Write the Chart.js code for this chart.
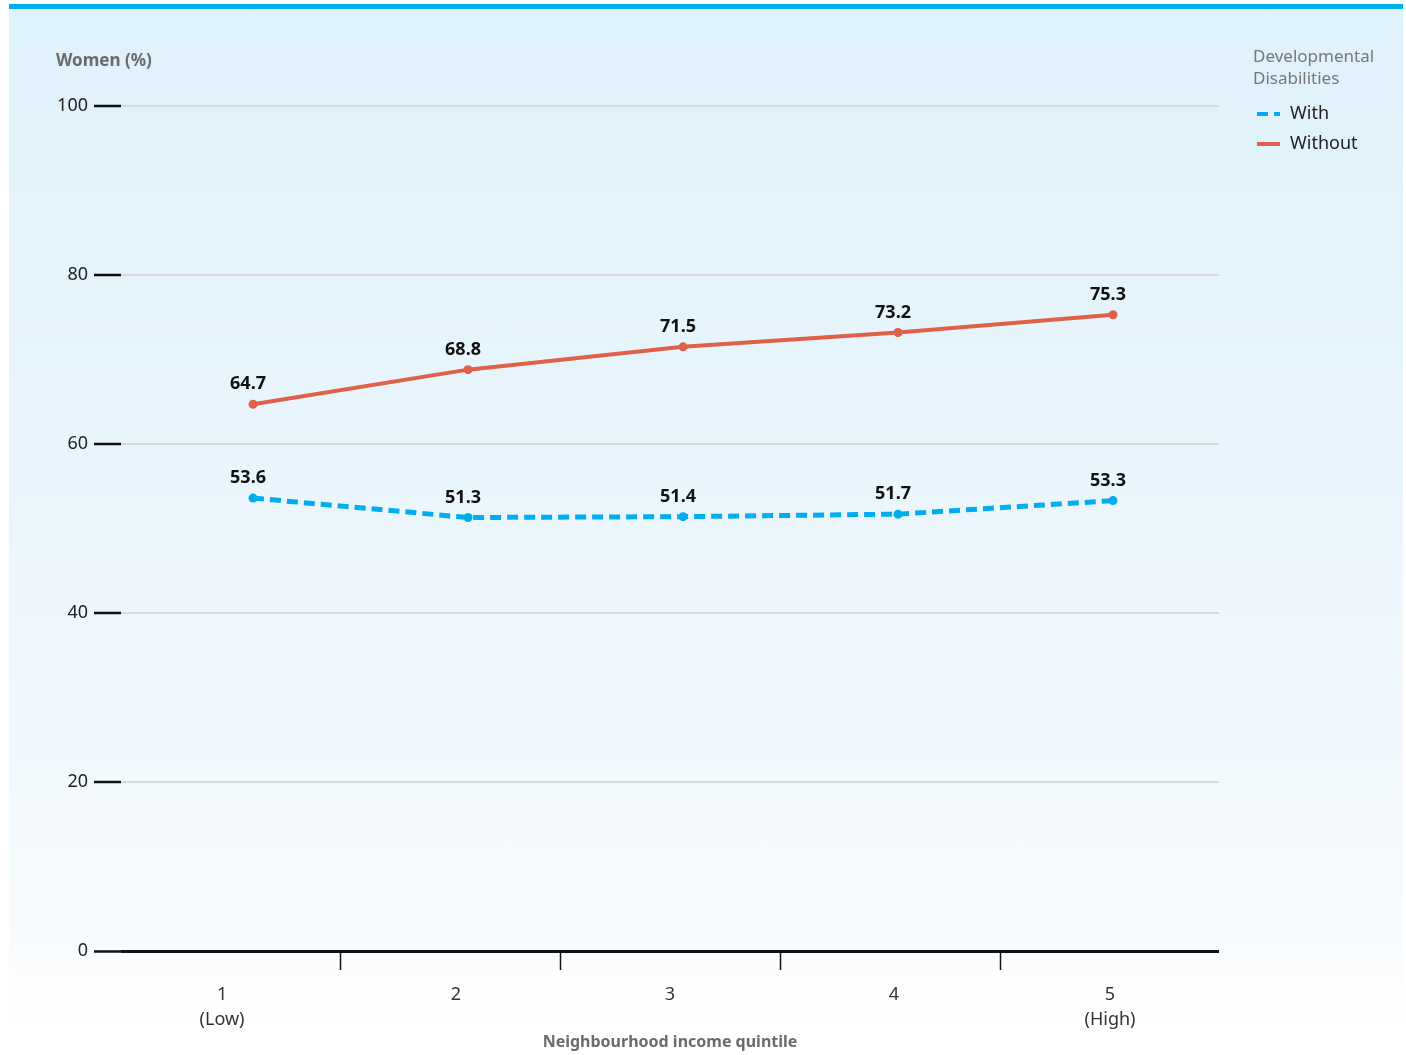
<!DOCTYPE html>
<html>
<head>
<meta charset="utf-8">
<script src="https://cdn.jsdelivr.net/npm/chart.js@4.4.1/dist/chart.umd.min.js"></script>
<style>
  html, body { margin: 0; padding: 0; background: #ffffff; }
  #wrap { position: relative; width: 1406px; height: 1055px; overflow: hidden; }
  #bg { position: absolute; left: 9px; top: 4px; width: 1394px; height: 1020px;
        background: linear-gradient(to bottom, #dff1fb 0%, #e9f5fc 45%, #f7fbfe 90%, #ffffff 100%); }
  #bar { position: absolute; left: 9px; top: 4px; width: 1394px; height: 5px; background: #00aeef; }
  canvas { position: absolute; left: 0; top: 0; }
</style>
</head>
<body>
<div id="wrap">
  <div id="bg"></div>
  <div id="bar"></div>
  <canvas id="c" width="1406" height="1055"></canvas>
</div>
<script>
const quintiles = [1, 2, 3, 4, 5];
const quintileLabels = [["1", "(Low)"], ["2"], ["3"], ["4"], ["5", "(High)"]];
const withDD = [53.6, 51.3, 51.4, 51.7, 53.3];
const withoutDD = [64.7, 68.8, 71.5, 73.2, 75.3];
const yTicks = [0, 20, 40, 60, 80, 100];
const seriesNames = ["With", "Without"];
const legendTitle = ["Developmental", "Disabilities"];
const yTitle = "Women (%)";
const xTitle = "Neighbourhood income quintile";

const FONT = "'Noto Sans', 'DejaVu Sans', sans-serif";
const BLUE = "#00aeef";
const RED = "#e0604a";

// layout tweaks (not data)
const X_MIN = 0.386, X_MAX = 5.493;
const labelShift = [-0.144, -0.056, -0.061, -0.019, -0.014];
const dividerAt = [1.405, 2.428, 3.451, 4.474];

const toPts = arr => arr.map((v, i) => ({ x: quintiles[i], y: v }));

const overlay = {
  id: 'overlay',
  afterDatasetsDraw(chart) {
    const ctx = chart.ctx;
    const ca = chart.chartArea;
    const xs = chart.scales.x;
    ctx.save();
    // divider ticks under the x axis
    ctx.strokeStyle = "#111";
    ctx.lineWidth = 1.5;
    dividerAt.forEach(v => {
      const px = Math.round(xs.getPixelForValue(v)) + 0.5;
      ctx.beginPath();
      ctx.moveTo(px, ca.bottom);
      ctx.lineTo(px, ca.bottom + 19);
      ctx.stroke();
    });
    // data labels
    ctx.font = "bold 18px " + FONT;
    ctx.fillStyle = "#111";
    ctx.textAlign = "center";
    ctx.textBaseline = "bottom";
    chart.data.datasets.forEach((ds, di) => {
      const meta = chart.getDatasetMeta(di);
      meta.data.forEach((pt, i) => {
        ctx.fillText(ds.data[i].y.toFixed(1), pt.x - 5, pt.y - 11);
      });
    });
    // y title
    ctx.font = "bold 17px " + FONT;
    ctx.fillStyle = "#6b6b6b";
    ctx.textAlign = "left";
    ctx.textBaseline = "middle";
    ctx.fillText(yTitle, 56, 61);
    // x title
    ctx.font = "bold 16px " + FONT;
    ctx.textAlign = "center";
    ctx.fillText(xTitle, (ca.left + ca.right) / 2, 1042);
    // legend
    ctx.font = "17px " + FONT;
    ctx.fillStyle = "#777";
    ctx.textAlign = "left";
    ctx.fillText(legendTitle[0], 1253, 57);
    ctx.fillText(legendTitle[1], 1253, 79);
    chart.data.datasets.forEach((ds, di) => {
      const y = 114 + di * 30;
      ctx.strokeStyle = ds.borderColor;
      ctx.lineWidth = 4;
      ctx.setLineDash(ds.borderDash || []);
      ctx.beginPath();
      ctx.moveTo(1257, y);
      ctx.lineTo(1280, y);
      ctx.stroke();
      ctx.setLineDash([]);
      ctx.fillStyle = "#222";
      ctx.font = "18px " + FONT;
      ctx.fillText(ds.label, 1290, y);
    });
    ctx.restore();
  }
};

new Chart(document.getElementById('c'), {
  type: 'line',
  data: {
    datasets: [
      {
        label: seriesNames[0],
        data: toPts(withDD),
        borderColor: BLUE,
        backgroundColor: BLUE,
        borderWidth: 5,
        borderDash: [11, 6],
        pointRadius: 4.5,
        pointBorderWidth: 0,
        tension: 0
      },
      {
        label: seriesNames[1],
        data: toPts(withoutDD),
        borderColor: RED,
        backgroundColor: RED,
        borderWidth: 4,
        pointRadius: 4.5,
        pointBorderWidth: 0,
        tension: 0
      }
    ]
  },
  options: {
    responsive: false,
    animation: false,
    devicePixelRatio: 1,
    layout: { padding: { left: 0, right: 187, top: 106, bottom: 0 } },
    plugins: { legend: { display: false }, tooltip: { enabled: false } },
    scales: {
      x: {
        type: 'linear',
        min: X_MIN,
        max: X_MAX,
        afterBuildTicks: axis => { axis.ticks = quintiles.map((v, i) => ({ value: v + labelShift[i], idx: i })); },
        afterFit: axis => { axis.height = 104; },
        ticks: {
          autoSkip: false,
          maxRotation: 0,
          color: "#333",
          font: { family: FONT, size: 18, lineHeight: 1.35 },
          padding: 32,
          callback: (v, i) => quintileLabels[i]
        },
        grid: { display: false, drawTicks: false },
        border: { display: false }
      },
      y: {
        min: 0,
        max: 100,
        afterBuildTicks: axis => { axis.ticks = yTicks.map(v => ({ value: v })); },
        afterFit: axis => { axis.width = 121; },
        ticks: {
          color: "#222",
          font: { family: FONT, size: 18 },
          padding: 6
        },
        grid: {
          color: ctx => ctx.tick && ctx.tick.value === 0 ? "#111" : "#d9d9d9",
          lineWidth: ctx => ctx.tick && ctx.tick.value === 0 ? 3 : 2,
          tickColor: "#111",
          tickWidth: 2.5,
          tickLength: 27
        },
        border: { display: false }
      }
    }
  },
  plugins: [overlay]
});
</script>
</body>
</html>
